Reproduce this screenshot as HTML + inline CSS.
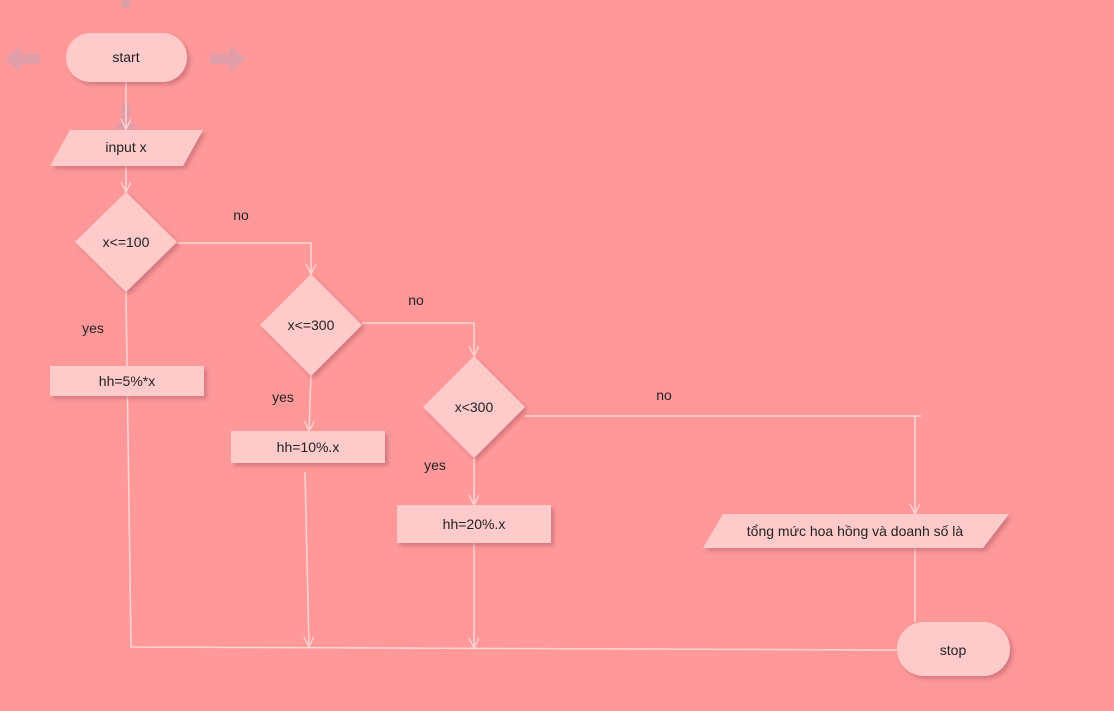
<!DOCTYPE html>
<html><head><meta charset="utf-8"><style>
html,body{margin:0;padding:0;background:#ff9999;}
svg{display:block;font-family:"Liberation Sans","Noto Sans CJK SC",sans-serif;}
text{font-size:14px;fill:#222;text-anchor:middle;}
</style></head><body>
<svg width="1114" height="711" viewBox="0 0 1114 711">
<defs>
<filter id="sh" x="-20%" y="-20%" width="150%" height="160%"><feDropShadow dx="3" dy="3" stdDeviation="2" flood-color="#a05060" flood-opacity="0.45"/></filter>
<marker id="ar" markerWidth="12" markerHeight="12" refX="10" refY="5" orient="auto" markerUnits="userSpaceOnUse"><path d="M0,0 L10,5 L0,10" fill="none" stroke="#ffd6d6" stroke-width="1.3"/></marker>
</defs>
<g fill="#d9a0ac" opacity="0.8">
<rect x="121" y="0" width="9" height="8"/>
<path d="M5,59 L20,46 L20,54 L40,54 L40,64 L20,64 L20,72 Z"/>
<path d="M245,59 L230,46 L230,54 L210,54 L210,64 L230,64 L230,72 Z"/>
<path d="M121,104 L130,104 L130,124 L138,124 L126,140 L114,124 L121,124 Z"/>
</g>
<g stroke="#ffd6d6" stroke-width="1.5" fill="none">
<line x1="126" y1="82" x2="126" y2="129" marker-end="url(#ar)"/>
<line x1="126" y1="166" x2="126" y2="192" marker-end="url(#ar)"/>
<polyline points="177,243 311,243 311,274" marker-end="url(#ar)"/>
<polyline points="126,292 131,647 897,650"/>
<polyline points="362,323 474,323 474,356" marker-end="url(#ar)"/>
<line x1="311" y1="376" x2="309" y2="431" marker-end="url(#ar)"/>
<line x1="305" y1="472" x2="309" y2="647" marker-end="url(#ar)"/>
<line x1="525" y1="416" x2="921" y2="416"/>
<line x1="915" y1="416" x2="915" y2="514" marker-end="url(#ar)"/>
<line x1="474" y1="458" x2="474" y2="505" marker-end="url(#ar)"/>
<line x1="474" y1="543" x2="474" y2="648" marker-end="url(#ar)"/>
<line x1="915" y1="548" x2="915" y2="622"/>
</g>
<g fill="#ffcaca" filter="url(#sh)">
<rect x="66" y="33" width="121" height="49" rx="24.5"/>
<polygon points="70,130 203,130 183,166 50,166"/>
<polygon points="126,192 177,242 126,292 75,242"/>
<rect x="50" y="366" width="154" height="30"/>
<polygon points="311,274 362,325 311,376 260,325"/>
<rect x="231" y="431" width="154" height="32"/>
<polygon points="474,356 525,407 474,458 423,407"/>
<rect x="397" y="505" width="154" height="38"/>
<polygon points="723,514 1009,514 983,548 703,548"/>
<rect x="897" y="622" width="113" height="54" rx="27"/>
</g>
<text x="126" y="62">start</text>
<text x="126" y="152">input x</text>
<text x="126" y="247">x&lt;=100</text>
<text x="127" y="386">hh=5%*x</text>
<text x="311" y="330">x&lt;=300</text>
<text x="308" y="452">hh=10%.x</text>
<text x="474" y="412">x&lt;300</text>
<text x="474" y="529">hh=20%.x</text>
<text x="855" y="536">tổng mức hoa hồng và doanh số là</text>
<text x="953" y="655">stop</text>
<text x="241" y="220">no</text>
<text x="416" y="305">no</text>
<text x="664" y="400">no</text>
<text x="93" y="333">yes</text>
<text x="283" y="402">yes</text>
<text x="435" y="470">yes</text>
</svg>
</body></html>
